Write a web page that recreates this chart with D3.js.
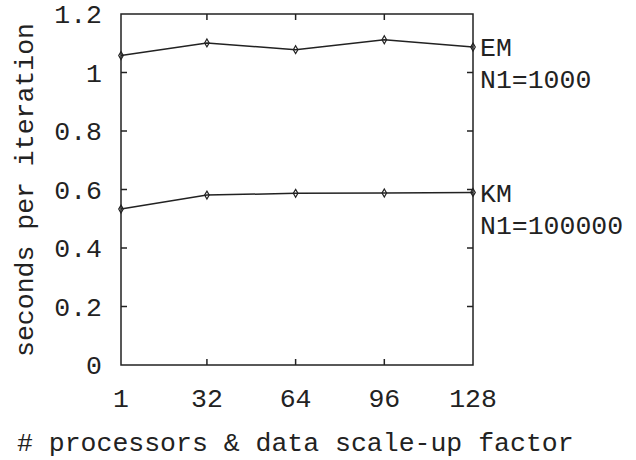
<!DOCTYPE html>
<html>
<head>
<meta charset="utf-8">
<script src="https://cdn.jsdelivr.net/npm/d3@7"></script>
<style>
  body { margin: 0; background: #fff; }
  text { font-family: "Liberation Mono", "DejaVu Sans Mono", monospace; fill: #222; }
</style>
</head>
<body>
<div id="chart"></div>
<script>
// data
var xValues = [1, 32, 64, 96, 128];
var emValues = [1.058, 1.101, 1.078, 1.112, 1.087];
var kmValues = [0.533, 0.581, 0.587, 0.588, 0.590];
var yTicks = [0, 0.2, 0.4, 0.6, 0.8, 1, 1.2];
var seriesNames = ["EM", "KM"];
var seriesNotes = ["N1=1000", "N1=100000"];

var W = 636, H = 460;
var margin = {top: 14, right: 163, bottom: 95, left: 121};
var width = W - margin.left - margin.right,
    height = H - margin.top - margin.bottom;

var svg = d3.select("#chart").append("svg")
    .attr("width", W)
    .attr("height", H)
  .append("g")
    .attr("transform", "translate(" + margin.left + "," + margin.top + ")");

var x = d3.scaleLinear().domain([1, 128]).range([0, width]);
var y = d3.scaleLinear().domain([0, 1.2]).range([height, 0]);

var ink = "#222";
var fs = "26.5px";

// frame
svg.append("rect")
    .attr("x", 0).attr("y", 0)
    .attr("width", width).attr("height", height)
    .attr("fill", "none").attr("stroke", ink).attr("stroke-width", 1.5);

// inward ticks, mirrored on all sides
var tickLen = 6;
yTicks.forEach(function(t){
    if (t == 0 || t == 1.2) return;
    svg.append("line").attr("x1", 0).attr("x2", tickLen)
       .attr("y1", y(t)).attr("y2", y(t)).attr("stroke", ink).attr("stroke-width", 1.5);
    svg.append("line").attr("x1", width).attr("x2", width - tickLen)
       .attr("y1", y(t)).attr("y2", y(t)).attr("stroke", ink).attr("stroke-width", 1.5);
});
xValues.forEach(function(t){
    if (t == 1 || t == 128) return;
    svg.append("line").attr("x1", x(t)).attr("x2", x(t))
       .attr("y1", height).attr("y2", height - tickLen).attr("stroke", ink).attr("stroke-width", 1.5);
    svg.append("line").attr("x1", x(t)).attr("x2", x(t))
       .attr("y1", 0).attr("y2", tickLen).attr("stroke", ink).attr("stroke-width", 1.5);
});

// tick labels
svg.selectAll(".ylab").data(yTicks).enter().append("text")
    .attr("x", -19)
    .attr("y", function(d){ return y(d); })
    .attr("dy", "0.35em")
    .attr("text-anchor", "end")
    .style("font-size", fs)
    .text(function(d){ return d3.format("")(d); });

svg.selectAll(".xlab").data(xValues).enter().append("text")
    .attr("x", function(d){ return x(d); })
    .attr("y", height + 42)
    .attr("text-anchor", "middle")
    .style("font-size", fs)
    .text(function(d){ return d; });

// axis titles
svg.append("text")
    .attr("transform", "rotate(-90)")
    .attr("x", -176)
    .attr("y", -margin.left + 33)
    .attr("text-anchor", "middle")
    .style("font-size", fs)
    .text("seconds per iteration");

svg.append("text")
    .attr("x", -margin.left + 17)
    .attr("y", height + 86)
    .style("font-size", fs)
    .text("# processors & data scale-up factor");

// lines
var line = d3.line()
    .x(function(d, i){ return x(xValues[i]); })
    .y(function(d){ return y(d); });

var allSeries = [emValues, kmValues];

allSeries.forEach(function(vals, k){
    svg.append("path")
        .datum(vals)
        .attr("fill", "none")
        .attr("stroke", ink)
        .attr("stroke-width", 1.5)
        .attr("d", line);

    svg.selectAll(".pt" + k).data(vals).enter().append("path")
        .attr("transform", function(d, i){ return "translate(" + x(xValues[i]) + "," + y(d) + ")"; })
        .attr("d", d3.symbol().type(d3.symbolDiamond).size(18))
        .attr("fill", "none")
        .attr("stroke", ink)
        .attr("stroke-width", 1.2);

    var last = vals[vals.length - 1];
    svg.append("text")
        .attr("x", width + 7)
        .attr("y", y(last))
        .attr("dy", "0.35em")
        .style("font-size", fs)
        .text(seriesNames[k]);
    svg.append("text")
        .attr("x", width + 7)
        .attr("y", y(last) + 32)
        .attr("dy", "0.35em")
        .style("font-size", fs)
        .text(seriesNotes[k]);
});
</script>
</body>
</html>
